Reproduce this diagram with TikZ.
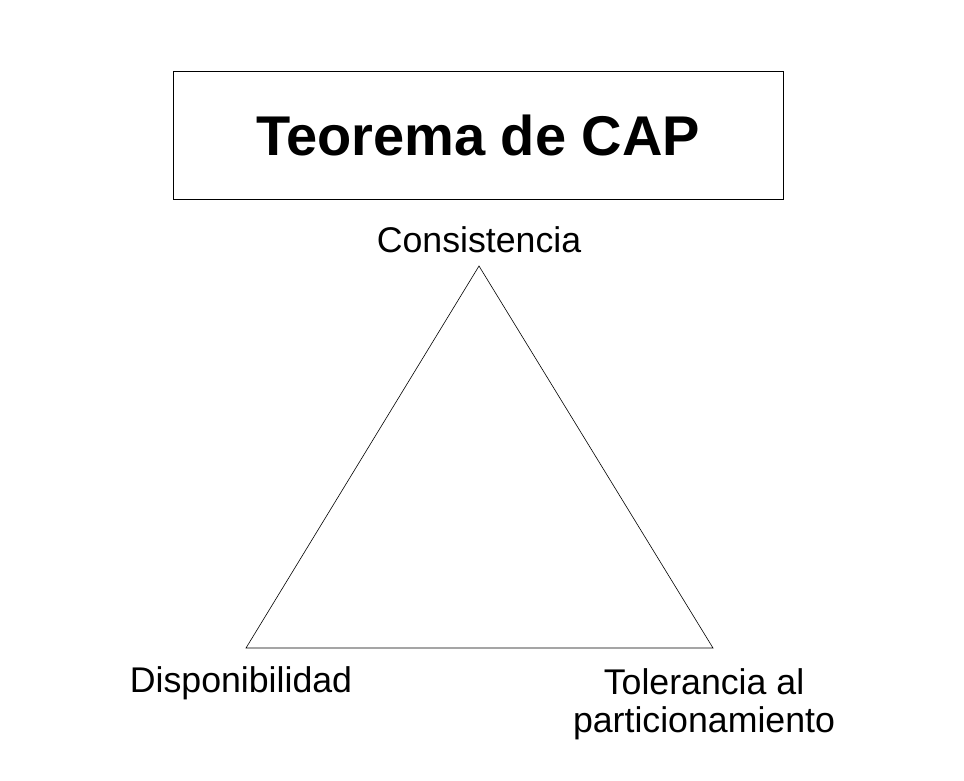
\documentclass[tikz,border=0pt]{standalone}
\usepackage{fontspec}
\setmainfont{Liberation Sans}
\usetikzlibrary{positioning}

\begin{document}
\begin{tikzpicture}[x=1pt, y=-1pt,
    vertexlabel/.style={font=\fontsize{35.7}{37.5}\selectfont, inner sep=0pt, align=center}]
  \useasboundingbox (0,0) rectangle (964,780);
  % Title box
  \node[draw, line width=0.6pt, minimum width=610pt, minimum height=128pt, font=\bfseries\fontsize{56}{60}\selectfont] (title) at (478,135) {Teorema de CAP};
  % Triangle corners
  \coordinate (cons) at (479,266);
  \coordinate (disp) at (246,648);
  \coordinate (tol) at (713,648);
  \draw[line width=0.6pt] (cons) -- (disp) -- (tol) -- cycle;
  % Labels
  \node[vertexlabel, anchor=base] (conslabel) at (479,252) {Consistencia};
  \node[vertexlabel, anchor=base] (displabel) at (241,692) {Disponibilidad};
  \node[vertexlabel, anchor=base] (tollabel) at (704,732) {Tolerancia al\\particionamiento};
\end{tikzpicture}
\end{document}
